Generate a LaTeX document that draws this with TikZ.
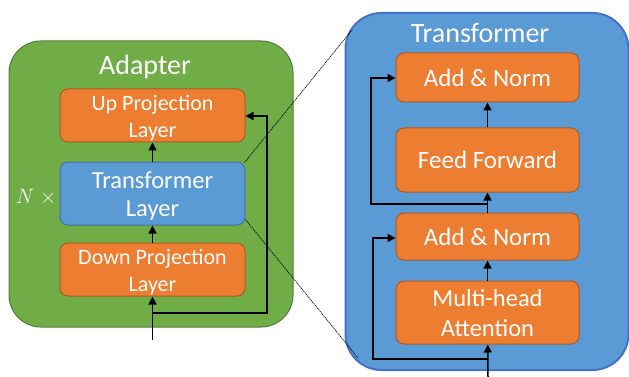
\documentclass[tikz,border=0pt]{standalone}
\usepackage{fontspec}
\setmainfont{Carlito}
\usetikzlibrary{arrows.meta,calc}
\definecolor{gfill}{HTML}{70AD47}
\definecolor{gline}{HTML}{507E32}
\definecolor{ofill}{HTML}{ED7D31}
\definecolor{oline}{HTML}{AE5A21}
\definecolor{bfill}{HTML}{5B9BD5}
\definecolor{bline}{HTML}{41719C}
\definecolor{tline}{HTML}{4472C4}
\tikzset{
  obox/.style={draw=oline, fill=ofill, line width=1pt, rounded corners=8pt, text=white, align=center, inner sep=0pt},
  bbox/.style={draw=bline, fill=bfill, line width=1pt, rounded corners=8pt, text=white, align=center, inner sep=0pt},
  arr/.style={line width=1.5pt, -{Triangle[length=8pt,width=8pt]}},
  zoomline/.style={line width=0.7pt, dash pattern=on 1.2pt off 0.8pt},
  ttl/.style={text=white, inner sep=0pt, font=\fontsize{28}{32}\selectfont},
}
\begin{document}
\begin{tikzpicture}[x=1pt,y=-1pt]
\useasboundingbox (0,0) rectangle (629,377);
% Adapter
\node[draw=gline, fill=gfill, line width=1pt, rounded corners=32pt, minimum width=284pt, minimum height=286pt, inner sep=0pt] (ad) at (151,184) {};
\node[ttl] (adt) at (145,67.5) {Adapter};
\node[obox, minimum width=185pt, minimum height=53pt, font=\fontsize{22}{27}\selectfont] (up) at (152.5,115.5) {\rule{0pt}{20pt}Up Projection\\Layer};
\node[bbox, minimum width=185pt, minimum height=63pt, font=\fontsize{24.5}{28}\selectfont] (tl) at (152.5,193.5) {\rule{0pt}{22pt}Transformer\\Layer};
\node[obox, minimum width=185pt, minimum height=53pt, font=\fontsize{22}{27}\selectfont] (down) at (152.5,269.5) {\rule{0pt}{20pt}Down Projection\\Layer};
\node[text=white, inner sep=0pt, font=\fontsize{21}{26}\selectfont] (nx) at (36,197) {$N\;\times$};
\coordinate (inL) at (152.5,340);
\coordinate (skL0) at (152.5,313);
\coordinate (skL1) at (267,116);
\draw[arr] (inL) -- (down);
\draw[arr] (down) -- (tl);
\draw[arr] (tl) -- (up);
\draw[arr] (skL0) -| (skL1) -- (up.east |- skL1);
% Transformer
\node[draw=tline, fill=bfill, line width=2pt, rounded corners=36pt, minimum width=283pt, minimum height=357pt, inner sep=0pt] (tr) at (487,191.5) {};
\node[ttl] (trt) at (480,33.5) {Transformer};
\node[obox, minimum width=183pt, minimum height=49pt, font=\fontsize{25}{30}\selectfont] (an2) at (487.5,77.5) {Add \& Norm};
\node[obox, minimum width=183pt, minimum height=64pt, font=\fontsize{25}{30}\selectfont] (ff) at (487.5,160) {Feed Forward};
\node[obox, minimum width=183pt, minimum height=47pt, font=\fontsize{25}{30}\selectfont] (an1) at (487.5,236.5) {Add \& Norm};
\node[obox, minimum width=183pt, minimum height=63pt, font=\fontsize{24.5}{30}\selectfont] (mha) at (487.5,312.5) {\rule{0pt}{18pt}Multi-head\\Attention};
\coordinate (inR) at (488,377);
\coordinate (skR0) at (488,359);
\coordinate (skR1) at (373,238);
\coordinate (skR2) at (488,204);
\coordinate (skR3) at (371,78);
\draw[arr] (inR) -- (mha);
\draw[arr] (mha) -- (an1);
\draw[arr] (an1) -- (ff);
\draw[arr] (ff) -- (an2);
\draw[arr] (skR0) -| (skR1) -- (an1.west |- skR1);
\draw[arr] (skR2) -| (skR3) -- (an2.west |- skR3);
% zoom lines
\coordinate (z1) at (352,30);
\coordinate (z2) at (358,358);
\draw[zoomline] (tl.north east) ++(-1,1) -- (z1);
\draw[zoomline] (tl.south east) ++(0,-6) -- (z2);
\end{tikzpicture}
\end{document}
